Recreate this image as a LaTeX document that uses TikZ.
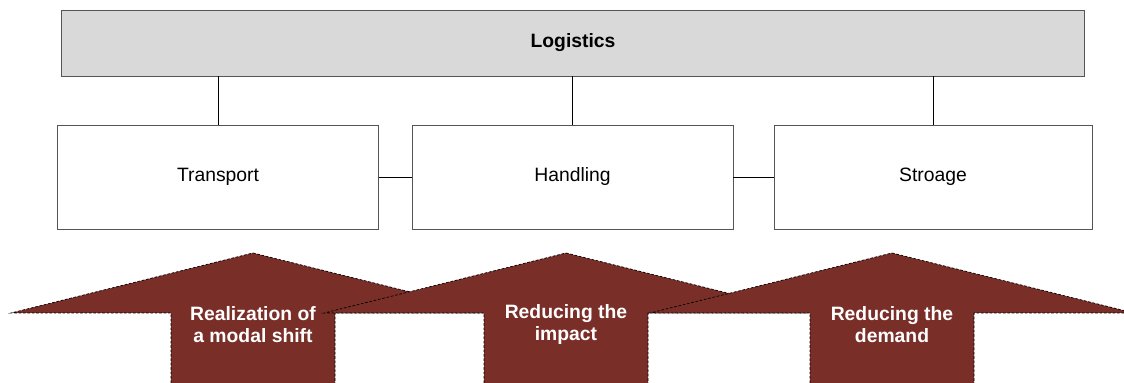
\documentclass[tikz,border=0pt]{standalone}
\usepackage{fontspec}
\setmainfont{Liberation Sans}
\usetikzlibrary{positioning}

\definecolor{boxgray}{RGB}{217,217,217}
\definecolor{linegray}{RGB}{85,85,85}
\definecolor{arrowred}{RGB}{122,46,40}

\tikzset{
  topbox/.style={draw=linegray, fill=boxgray, minimum width=20.46cm, minimum height=1.32cm, font=\fontsize{11pt}{13pt}\selectfont\bfseries},
  areabox/.style={draw=linegray, fill=white, minimum width=6.42cm, minimum height=2.08cm, font=\fontsize{11pt}{13pt}\selectfont},
  link/.style={draw=black, line width=0.5pt},
  bigarrow/.style={fill=arrowred, draw=black, dashed, dash pattern=on 1.5pt off 1pt, line width=0.4pt},
  arrowtext/.style={text=white, align=center, font=\fontsize{11pt}{12.6pt}\selectfont\bfseries}
}

\begin{document}
\begin{tikzpicture}
\useasboundingbox (0,0) rectangle (22.48,7.66);

\node[topbox] (logistics) at (11.46,6.80) {Logistics};
\node[areabox] (transport) at (4.36,4.12) {Transport};
\node[areabox] (handling) at (11.45,4.12) {Handling};
\node[areabox, minimum width=6.36cm] (storage) at (18.66,4.12) {Stroage};

% links to the top box
\draw[link] (transport.north) -- (transport.north |- logistics.south);
\draw[link] (handling.north) -- (handling.north |- logistics.south);
\draw[link] (storage.north) -- (storage.north |- logistics.south);
% links between the areas
\draw[link] (transport) -- (handling);
\draw[link] (handling) -- (storage);

% block arrows, drawn left to right so each overlaps the one before
\begin{scope}
\clip (0,0) rectangle (22.48,7.66);
\foreach \x/\name/\txt in {5.06/shift/{Realization of\\a modal shift},
                           11.32/impact/{Reducing the\\impact},
                           17.84/demand/{Reducing the\\demand}} {
  \draw[bigarrow] (\x,2.60) -- (\x+4.84,1.40) -- (\x+1.64,1.40) -- (\x+1.64,-0.2)
    -- (\x-1.64,-0.2) -- (\x-1.64,1.40) -- (\x-4.84,1.40) -- cycle;
  \node[arrowtext] (\name) at (\x,1.17) {\txt};
}
\end{scope}
\end{tikzpicture}
\end{document}
